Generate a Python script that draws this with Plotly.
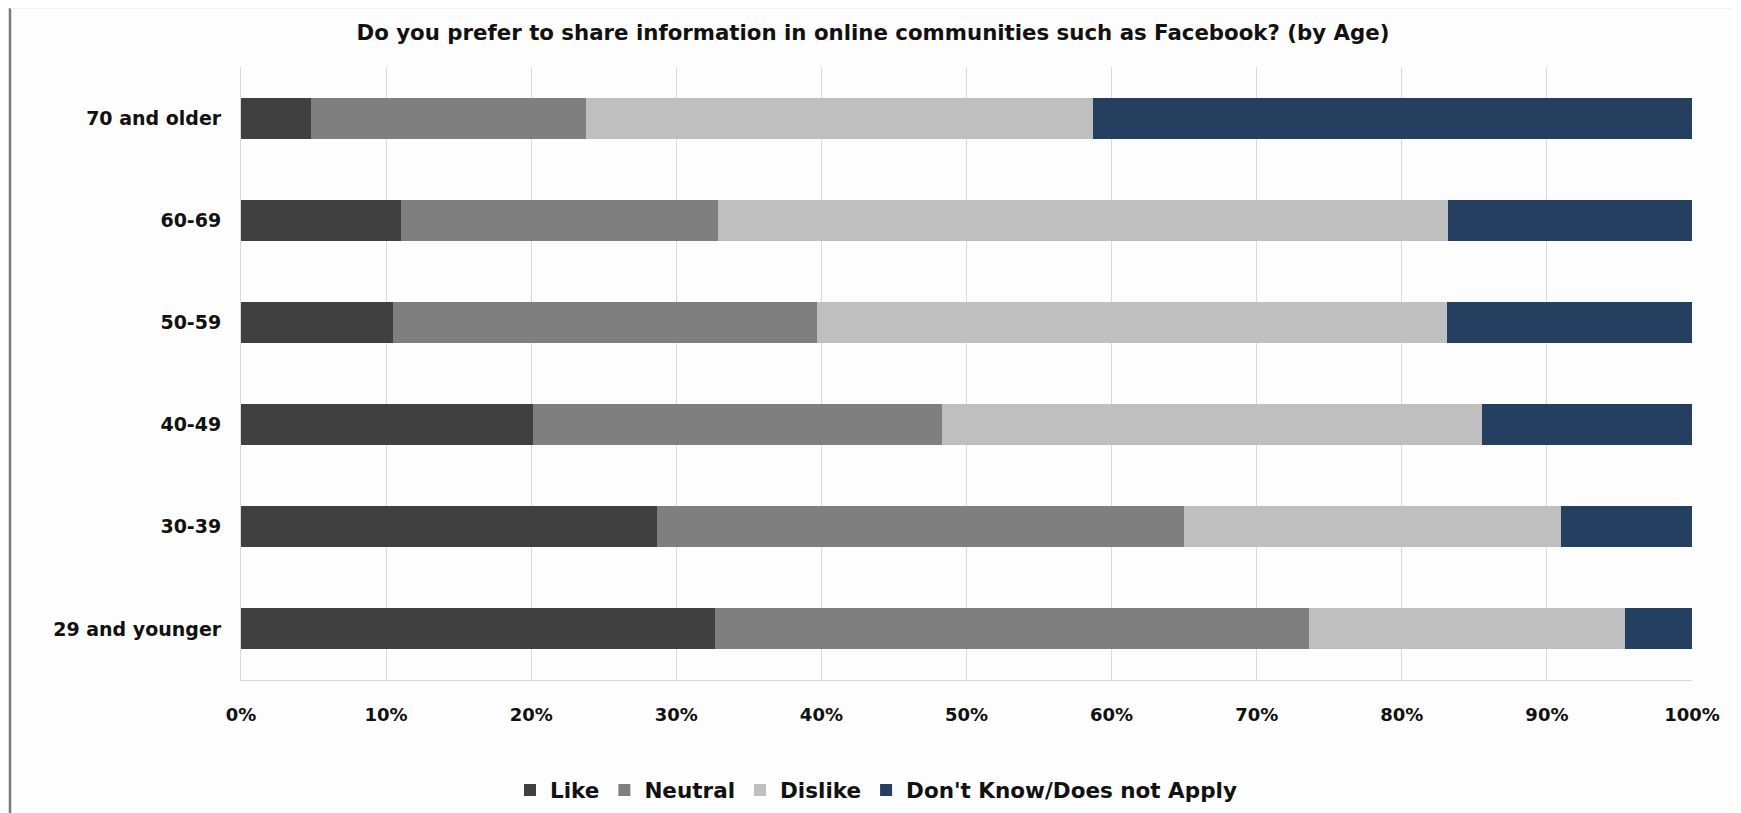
import plotly.graph_objects as go

categories = ["29 and younger", "30-39", "40-49", "50-59", "60-69", "70 and older"]
like = [32.7, 28.7, 20.1, 10.5, 11.0, 4.8]
neutral = [40.9, 36.3, 28.2, 29.2, 21.9, 19.0]
dislike = [21.8, 26.0, 37.2, 43.4, 50.3, 34.9]
dont_know = [4.6, 9.0, 14.5, 16.9, 16.8, 41.3]

series_names = ["Like", "Neutral", "Dislike", "Don't Know/Does not Apply"]
series_values = [like, neutral, dislike, dont_know]
series_colors = ["#404040", "#7f7f7f", "#bfbfbf", "#243f60"]

FONT = "DejaVu Sans"
OFF = 8  # page body margin
W, H = 1741 - OFF, 813 - OFF
L, R, T, B = 241 - OFF, 1692 - OFF, 67 - OFF, 680 - OFF

fig = go.Figure()
for name, vals, col in zip(series_names, series_values, series_colors):
    fig.add_trace(go.Bar(
        y=categories, x=vals, name="<b>" + name + "</b>", orientation="h",
        marker=dict(color=col, line=dict(width=0)),
        width=0.4,
    ))

def px_x(p):
    return (p - OFF - L) / (R - L)

def px_y(p):
    return (B - (p - OFF)) / (B - T)

shapes = [
    dict(type="line", xref="paper", yref="paper", x0=px_x(10), x1=px_x(10),
         y0=px_y(8), y1=px_y(830), line=dict(color="#7a7a7a", width=2.5)),
    dict(type="line", xref="paper", yref="paper", x0=px_x(1738), x1=px_x(1738),
         y0=px_y(8), y1=px_y(830), line=dict(color="#7a7a7a", width=2.5)),
    dict(type="line", xref="paper", yref="paper", x0=px_x(10), x1=px_x(1738),
         y0=px_y(8), y1=px_y(8), line=dict(color="#eeeeee", width=1.5)),
]

fig.update_layout(
    width=W, height=H,
    margin=dict(l=L, r=W - R, t=T, b=H - B, pad=0, autoexpand=False),
    barmode="stack",
    paper_bgcolor="#fdfdfd",
    plot_bgcolor="#fdfdfd",
    font=dict(family=FONT, color="#111111"),
    title=dict(
        text="<b>Do you prefer to share information in online communities such as Facebook? (by Age)</b>",
        x=(873 - OFF) / W, xref="container", xanchor="center",
        y=1 - (33 - OFF) / H, yref="container", yanchor="middle",
        font=dict(family=FONT, size=21.3, color="#111111"),
    ),
    xaxis=dict(
        range=[0, 100], dtick=10, tick0=0,
        tickprefix="<b>", ticksuffix="%</b>",
        showgrid=True, gridcolor="#d9d9d9", gridwidth=1,
        showline=True, linecolor="#d9d9d9", linewidth=1,
        zeroline=False, automargin=False,
        ticks="outside", ticklen=18, tickcolor="rgba(0,0,0,0)",
        tickfont=dict(family=FONT, size=18, color="#111111"),
        fixedrange=True,
    ),
    yaxis=dict(
        categoryorder="array", categoryarray=categories,
        range=[-0.5, 5.5], automargin=False,
        showgrid=False,
        showline=True, linecolor="#d9d9d9", linewidth=1,
        ticks="outside", ticklen=15, tickcolor="rgba(0,0,0,0)",
        tickfont=dict(family=FONT, size=19, color="#111111"),
        tickprefix="<b>", ticksuffix="</b>",
        fixedrange=True,
    ),
    legend=dict(
        orientation="h",
        x=px_x(876), xanchor="center",
        y=px_y(790), yanchor="middle",
        font=dict(family=FONT, size=21.5, color="#111111"),
        bgcolor="rgba(0,0,0,0)",
        traceorder="normal",
    ),
    shapes=shapes,
    showlegend=True,
)

fig.write_html("out.html")
